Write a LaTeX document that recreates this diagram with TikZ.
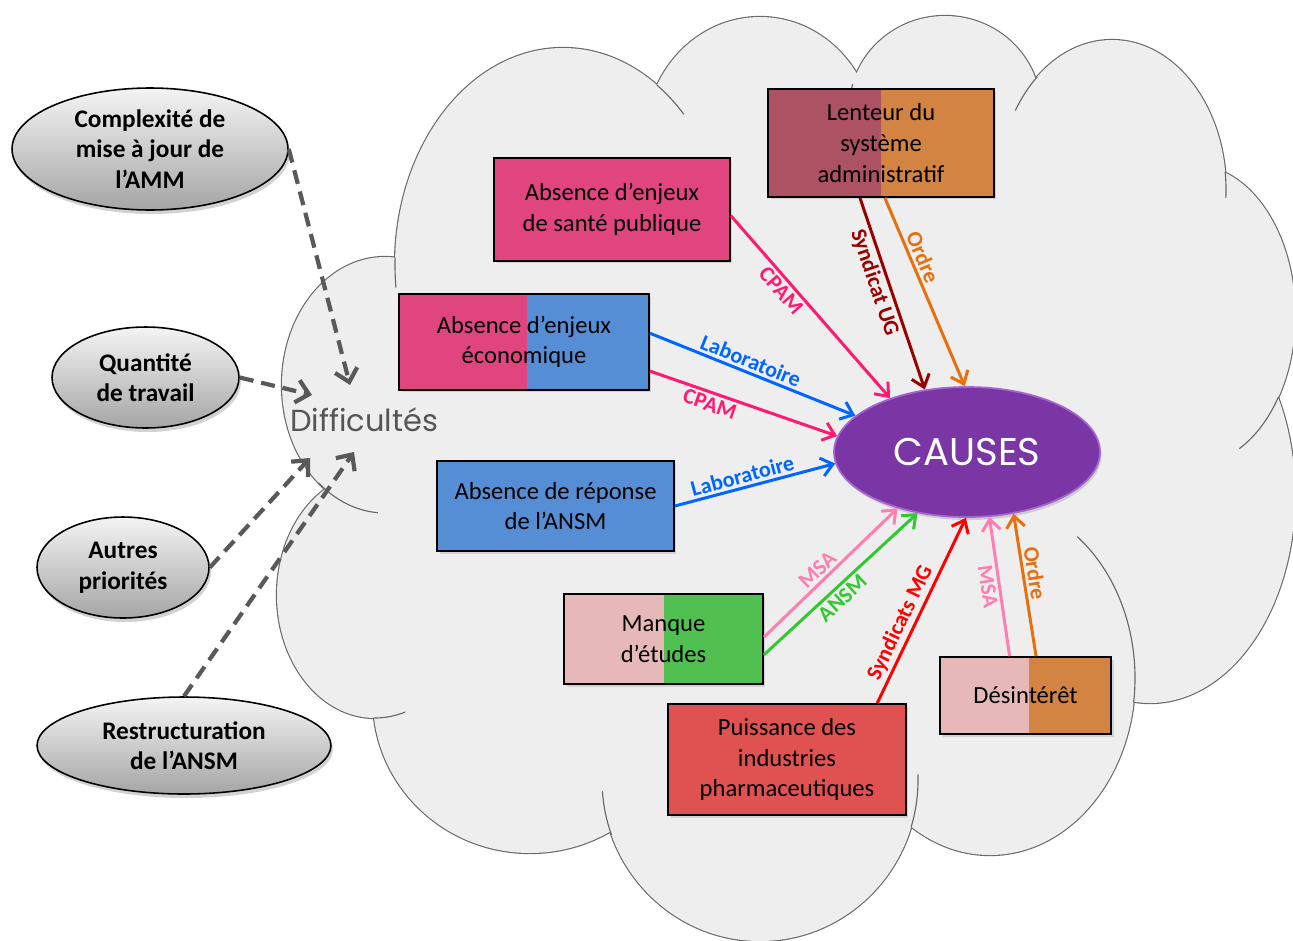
\documentclass[tikz,border=0pt]{standalone}
\usepackage{fontspec}
\usepackage{graphicx}
\setmainfont{Carlito}
\newfontfamily\handfont{Poppins}
\usetikzlibrary{shapes.geometric,arrows.meta,shadows}

\definecolor{cloudfill}{RGB}{238,238,238}
\definecolor{cloudedge}{RGB}{105,105,105}
\definecolor{pinkbox}{RGB}{224,69,128}
\definecolor{bluebox}{RGB}{85,142,213}
\definecolor{palepink}{RGB}{230,185,184}
\definecolor{greenbox}{RGB}{80,192,80}
\definecolor{redbox}{RGB}{224,82,82}
\definecolor{orangebox}{RGB}{211,131,66}
\definecolor{rosebox}{RGB}{173,82,99}
\definecolor{causesfill}{RGB}{122,54,165}
\definecolor{causesedge}{RGB}{165,100,210}
\definecolor{cpam}{RGB}{255,25,115}
\definecolor{labo}{RGB}{0,102,255}
\definecolor{ugred}{RGB}{155,0,0}
\definecolor{ordre}{RGB}{232,112,12}
\definecolor{msa}{RGB}{255,125,175}
\definecolor{ansm}{RGB}{50,200,50}
\definecolor{mgred}{RGB}{255,0,0}
\definecolor{dashgray}{RGB}{89,89,89}
\definecolor{diffgray}{RGB}{85,85,85}
\definecolor{ovaltop}{RGB}{244,244,244}
\definecolor{ovalbot}{RGB}{165,165,165}

\begin{document}
\begin{tikzpicture}[x=0.02cm, y=-0.02cm,
  box/.style={rectangle, draw=black, line width=1pt, inner sep=0pt, align=center,
    font=\fontsize{14}{17.4}\selectfont,
    drop shadow={shadow xshift=0.05cm, shadow yshift=-0.05cm, opacity=0.25}},
  duo/.style n args={3}{fill=#2, path picture={\fill[#1] (path picture bounding box.south west) rectangle ([xshift=#3]path picture bounding box.north west);}},
  oval/.style={ellipse, draw=black, line width=0.9pt, inner sep=0pt, top color=ovaltop, bottom color=ovalbot,
    drop shadow={shadow xshift=0.04cm, shadow yshift=-0.08cm, opacity=0.35}},
  ovaltext/.style={align=center, inner sep=0pt, font=\bfseries\fontsize{14.4}{17.4}\selectfont},
  link/.style={draw=#1, line width=1.7pt, -{Straight Barb[length=6.5pt,width=10.5pt]}},
  tag/.style={text=#1, sloped, inner sep=1.5pt, font=\bfseries\fontsize{12.6}{13}\selectfont},
  dasharrow/.style={draw=dashgray, line width=2.4pt, dash pattern=on 8pt off 4.5pt,
    -{Straight Barb[length=7pt,width=13pt]}}]

\useasboundingbox (0,0) rectangle (1293,940);
\fill[white] (0,0) rectangle (1293,940);

% ---- cloud: union of elliptic lobes ----
\begin{scope}
  \clip (0,0) rectangle (1293,940);
  \foreach \cx/\cy/\rx/\ry in {385/385/103/128, 563/265/168/217, 760/140/115/123,
      945/110/96/94, 1112/190/114/150, 1193/315/102/150, 1150/495/145/208,
      990/678/145/177, 760/780/158/161, 530/700/157/153, 375/595/98/123}
    \draw[cloudedge, line width=1.3pt] (\cx,\cy) ellipse [x radius=\rx, y radius=\ry];
  \foreach \cx/\cy/\rx/\ry in {385/385/103/128, 563/265/168/217, 760/140/115/123,
      945/110/96/94, 1112/190/114/150, 1193/315/102/150, 1150/495/145/208,
      990/678/145/177, 760/780/158/161, 530/700/157/153, 375/595/98/123}
    \fill[cloudfill] (\cx,\cy) ellipse [x radius=\rx, y radius=\ry];
  \fill[cloudfill] (385,385) -- (563,265) -- (760,140) -- (945,110) -- (1112,190)
    -- (1193,315) -- (1150,495) -- (990,678) -- (760,780) -- (530,700) -- (375,595) -- cycle;
  % short inner arcs where the lobes meet
  \foreach \cx/\cy/\rx/\ry/\a/\b in {385/385/103/128/130/94, 375/595/98/123/91/72,
      760/780/158/161/176/160, 760/780/158/161/-2/17, 990/678/145/177/-53/8,
      1193/315/102/150/33/63, 1112/190/114/150/-7/3, 1112/190/114/150/229/212,
      945/110/96/94/196/186, 563/265/168/217/-56/-44, 563/265/168/217/182/174}
    \draw[cloudedge, line width=0.65pt] (\cx,\cy) ++(\a:{\rx} and {\ry})
      arc [start angle=\a, end angle=\b, x radius=\rx, y radius=\ry];
\end{scope}

% ---- left ovals ----
\node[oval, minimum width=5.52cm, minimum height=2.44cm] (cpx) at (150,149) {};
\node[ovaltext] (cpx-t) at (cpx) {Complexité de\\mise à jour de\\l’AMM};
\node[oval, minimum width=3.74cm, minimum height=2.02cm] (qty) at (145.5,377.5) {};
\node[ovaltext] (qty-t) at (qty) {Quantité\\de travail};
\node[oval, minimum width=3.44cm, minimum height=2.02cm] (autres) at (123,567.5) {};
\node[ovaltext] (autres-t) at (autres) {Autres\\priorités};
\node[oval, minimum width=5.88cm, minimum height=1.94cm] (restr) at (184,745.5) {};
\node[ovaltext] (restr-t) at (restr) {Restructuration\\de l’ANSM};

\node[text=diffgray, inner sep=0pt] (diff) at (364,420) {\resizebox{2.96cm}{!}{\handfont Difficultés}};

\coordinate (d1) at (350,385);
\coordinate (d2) at (312,395);
\coordinate (d3) at (310,458);
\coordinate (d4) at (354,452);

% ---- cause boxes ----
\node[box, fill=pinkbox, minimum width=4.72cm, minimum height=2.06cm] (sante) at (612,209.5) {Absence d’enjeux\\de santé publique};
\node[box, duo={pinkbox}{bluebox}{2.56cm}, minimum width=5cm, minimum height=1.92cm] (eco) at (524,342) {Absence d’enjeux\\économique};
\node[box, fill=bluebox, minimum width=4.74cm, minimum height=1.8cm] (reponse) at (555.5,506) {Absence de réponse\\de l’ANSM};
\node[box, duo={palepink}{greenbox}{2cm}, minimum width=3.98cm, minimum height=1.8cm] (manque) at (663.5,639) {Manque\\d’études};
\node[box, fill=redbox, minimum width=4.76cm, minimum height=2.22cm] (puiss) at (787,759.5) {Puissance des\\industries\\pharmaceutiques};
\node[box, duo={palepink}{orangebox}{1.78cm}, minimum width=3.42cm, minimum height=1.54cm] (desint) at (1025.5,695.5) {Désintérêt};
\node[box, duo={rosebox}{orangebox}{2.26cm}, minimum width=4.52cm, minimum height=2.16cm] (lenteur) at (881,143) {Lenteur du\\système\\administratif};

\node[ellipse, fill=causesfill, draw=causesedge, line width=1pt, inner sep=0pt,
  minimum width=5.32cm, minimum height=2.6cm, text=white,
  drop shadow={shadow xshift=0.03cm, shadow yshift=-0.06cm, opacity=0.3}]
  (causes) at (967,452) {\resizebox{2.94cm}{!}{\handfont CAUSES}};

% ---- dashed arrows towards the difficulties ----
\draw[dasharrow] (cpx.east) -- (d1);
\draw[dasharrow] (qty.east) -- (d2);
\draw[dasharrow] (autres.east) -- (d3);
\draw[dasharrow] (restr.north) -- (d4);

% ---- coloured arrows towards the causes ----
\draw[link=cpam] (sante.-3) -- node[tag=cpam, pos=.37, below] (t1) {CPAM} (causes.145);
\draw[link=labo] (eco.4) -- node[tag=labo, pos=.47, above] (t2) {Laboratoire} (causes.162);
\draw[link=cpam] (eco.-13) -- node[tag=cpam, pos=.34, below] (t3) {CPAM} (causes.173);
\draw[link=labo] (reponse.east) -- node[tag=labo, pos=.44, above] (t4) {Laboratoire} (causes.185);
\draw[link=ugred] (lenteur.-111) -- node[tag=ugred, pos=.42, below] (t5) {Syndicat UG} (causes.124);
\draw[link=ordre] (lenteur.-86) -- node[tag=ordre, pos=.34, above] (t6) {Ordre} (causes.92);
\draw[link=msa] (manque.1) -- node[tag=msa, pos=.46, above] (t7) {MSA} (causes.219);
\draw[link=ansm] (manque.-9) -- node[tag=ansm, pos=.46, below] (t8) {ANSM} (causes.231);
\draw[link=mgred] (puiss.32) -- node[tag=mgred, pos=.40, above] (t9) {Syndicats MG} (causes.269);
\draw[link=msa] (desint.112) -- node[tag=msa, pos=.51, below] (t10) {MSA} (causes.289);
\draw[link=ordre] (desint.75) -- node[tag=ordre, pos=.57, above] (t11) {Ordre} (causes.-53);

\end{tikzpicture}
\end{document}
